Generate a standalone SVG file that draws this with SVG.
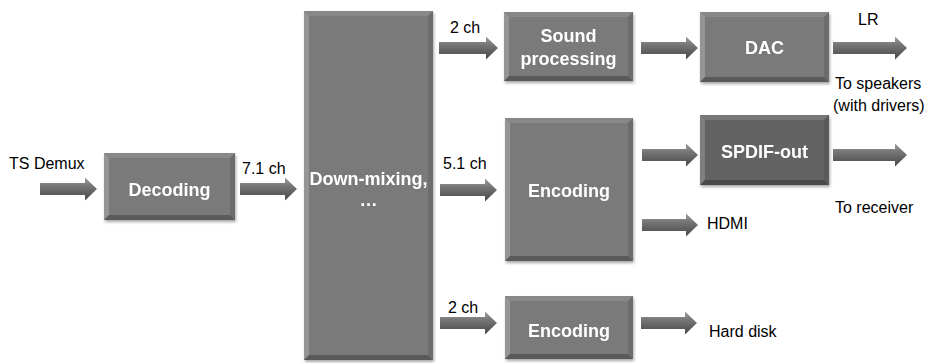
<svg xmlns="http://www.w3.org/2000/svg" width="929" height="363" viewBox="0 0 929 363">
<defs>
<linearGradient id="ag" x1="0" y1="0" x2="0" y2="1">
<stop offset="0" stop-color="#a0a0a0"/>
<stop offset="0.35" stop-color="#777"/>
<stop offset="1" stop-color="#474747"/>
</linearGradient>
<filter id="sh" x="-10%" y="-10%" width="130%" height="130%">
<feDropShadow dx="1" dy="2" stdDeviation="1.5" flood-color="#000" flood-opacity="0.35"/>
</filter>
</defs>
<style>
.f{fill:#7a7a7a}
.fd{fill:#636363}
.bt{fill:#888}
.bl{fill:#959595}
.bb{fill:#5a5a5a}
.br{fill:#6c6c6c}
.bx{filter:url(#sh)}
.t{font-family:"Liberation Sans",Arial,sans-serif;font-size:18px;font-weight:bold;fill:#fff;text-anchor:middle}
.l{font-family:"Liberation Sans",Arial,sans-serif;font-size:16px;fill:#000}
.a{fill:url(#ag)}
</style>

<g id="connectors">
<path class="a" d="M40,183 H85 V177.5 L97,189 L85,200.5 V195 H40 Z"/>
<path class="a" d="M240,183 H285 V177.5 L297,189 L285,200.5 V195 H240 Z"/>
<path class="a" d="M439,42 H486 V36.5 L498,48 L486,59.5 V54 H439 Z"/>
<path class="a" d="M641,42 H686 V36.5 L698,48 L686,59.5 V54 H641 Z"/>
<path class="a" d="M833,42 H895 V36.5 L907,48 L895,59.5 V54 H833 Z"/>
<path class="a" d="M440,184 H485 V178.5 L497,190 L485,201.5 V196 H440 Z"/>
<path class="a" d="M642,149 H686 V143.5 L698,155 L686,166.5 V161 H642 Z"/>
<path class="a" d="M833,149 H895 V143.5 L907,155 L895,166.5 V161 H833 Z"/>
<path class="a" d="M642,219 H686 V213.5 L698,225 L686,236.5 V231 H642 Z"/>
<path class="a" d="M440,317 H485 V311.5 L497,323 L485,334.5 V329 H440 Z"/>
<path class="a" d="M641,317 H685 V311.5 L697,323 L685,334.5 V329 H641 Z"/>
</g>

<g id="labels">
<text class="l" x="9" y="169">TS Demux</text>
<text class="l" x="242" y="174">7.1 ch</text>
<text class="l" x="450" y="33">2 ch</text>
<text class="l" x="858" y="25">LR</text>
<text class="l" x="835" y="89">To speakers</text>
<text class="l" x="833" y="111">(with drivers)</text>
<text class="l" x="443" y="169">5.1 ch</text>
<text class="l" x="707" y="229">HDMI</text>
<text class="l" x="835" y="213">To receiver</text>
<text class="l" x="448" y="313">2 ch</text>
<text class="l" x="709" y="337">Hard disk</text>
</g>

<g id="decoding" class="bx">
<rect class="f" x="104" y="153" width="131" height="67"/>
<path class="bt" d="M104,153 h131 l-5,5 h-121 z"/>
<path class="bl" d="M104,153 l5,5 v57 l-5,5 z"/>
<path class="bb" d="M104,220 l5,-5 h121 l5,5 z"/>
<path class="br" d="M235,153 v67 l-5,-5 v-57 z"/>
<text class="t" x="169.5" y="196">Decoding</text>
</g>

<g id="downmixing" class="bx">
<rect class="f" x="304" y="11" width="129" height="349"/>
<path class="bt" d="M304,11 h129 l-5,5 h-119 z"/>
<path class="bl" d="M304,11 l5,5 v339 l-5,5 z"/>
<path class="bb" d="M304,360 l5,-5 h119 l5,5 z"/>
<path class="br" d="M433,11 v349 l-5,-5 v-339 z"/>
<text class="t" x="368.5" y="185">Down-mixing,</text>
<text class="t" x="368.5" y="206">…</text>
</g>

<g id="soundprocessing" class="bx">
<rect class="f" x="504" y="12" width="129" height="69"/>
<path class="bt" d="M504,12 h129 l-5,5 h-119 z"/>
<path class="bl" d="M504,12 l5,5 v59 l-5,5 z"/>
<path class="bb" d="M504,81 l5,-5 h119 l5,5 z"/>
<path class="br" d="M633,12 v69 l-5,-5 v-59 z"/>
<text class="t" x="568.5" y="42">Sound</text>
<text class="t" x="568.5" y="65">processing</text>
</g>

<g id="dac" class="bx">
<rect class="f" x="700" y="12" width="129" height="70"/>
<path class="bt" d="M700,12 h129 l-5,5 h-119 z"/>
<path class="bl" d="M700,12 l5,5 v60 l-5,5 z"/>
<path class="bb" d="M700,82 l5,-5 h119 l5,5 z"/>
<path class="br" d="M829,12 v70 l-5,-5 v-60 z"/>
<text class="t" x="764.5" y="54">DAC</text>
</g>

<g id="encoding1" class="bx">
<rect class="f" x="505" y="118" width="128" height="143"/>
<path class="bt" d="M505,118 h128 l-5,5 h-118 z"/>
<path class="bl" d="M505,118 l5,5 v133 l-5,5 z"/>
<path class="bb" d="M505,261 l5,-5 h118 l5,5 z"/>
<path class="br" d="M633,118 v143 l-5,-5 v-133 z"/>
<text class="t" x="569" y="197">Encoding</text>
</g>

<g id="spdifout" class="bx">
<rect class="fd" x="700" y="115" width="129" height="70"/>
<path class="bt" d="M700,115 h129 l-5,5 h-119 z" style="fill:#777"/>
<path class="bl" d="M700,115 l5,5 v60 l-5,5 z" style="fill:#808080"/>
<path class="bb" d="M700,185 l5,-5 h119 l5,5 z" style="fill:#4a4a4a"/>
<path class="br" d="M829,115 v70 l-5,-5 v-60 z" style="fill:#5a5a5a"/>
<text class="t" x="764.5" y="158">SPDIF-out</text>
</g>

<g id="encoding2" class="bx">
<rect class="f" x="505" y="296" width="128" height="63"/>
<path class="bt" d="M505,296 h128 l-5,5 h-118 z"/>
<path class="bl" d="M505,296 l5,5 v53 l-5,5 z"/>
<path class="bb" d="M505,359 l5,-5 h118 l5,5 z"/>
<path class="br" d="M633,296 v63 l-5,-5 v-53 z"/>
<text class="t" x="569" y="337">Encoding</text>
</g>
</svg>
